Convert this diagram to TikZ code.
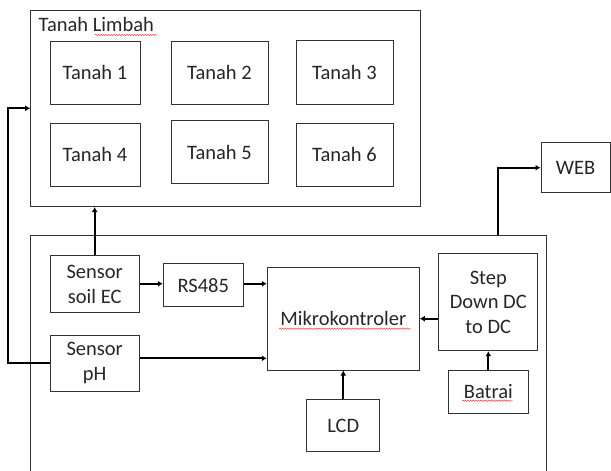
\documentclass[tikz,border=0pt]{standalone}
\usepackage{fontspec}
\setmainfont{Carlito}
\usetikzlibrary{arrows.meta,decorations.pathmorphing}
\tikzset{
  boxnode/.style={draw=black!80,line width=1pt,inner sep=0pt,align=center,
    text=black!85,font=\fontsize{20.5}{24.5}\selectfont},
  arr/.style={line width=1.9pt,-{Latex[length=5pt,width=6pt]}},
  squig/.style={red!75,line width=0.5pt,decorate,
    decoration={snake,amplitude=0.7pt,segment length=2.6pt}}
}
\begin{document}
\begin{tikzpicture}[x=1pt,y=-1pt]
\useasboundingbox (0,0) rectangle (611,471);
\clip (0,0) rectangle (611,471);
% outer boxes
\node[boxnode,minimum width=390pt,minimum height=195.8pt] (top) at (225.7,108.6) {};
\node[anchor=west,text=black!85,font=\fontsize{20.5}{24.5}\selectfont,inner sep=0pt] (title) at (38.5,24.5) {Tanah Limbah};
\node[boxnode,minimum width=515.3pt,minimum height=260pt] (bot) at (288.35,365) {};
% soil samples
\node[boxnode,minimum width=90pt,minimum height=63pt] (t1) at (95,72.5) {Tanah 1};
\node[boxnode,minimum width=97pt,minimum height=63pt] (t2) at (219.5,72.5) {Tanah 2};
\node[boxnode,minimum width=97pt,minimum height=64pt] (t3) at (344.5,72) {Tanah 3};
\node[boxnode,minimum width=90pt,minimum height=63pt] (t4) at (95,154.5) {Tanah 4};
\node[boxnode,minimum width=97pt,minimum height=62.6pt] (t5) at (219.5,152) {Tanah 5};
\node[boxnode,minimum width=97pt,minimum height=63pt] (t6) at (344.5,154.5) {Tanah 6};
% system blocks
\node[boxnode,minimum width=89.3pt,minimum height=56.7pt] (ec) at (94.7,284.3) {Sensor\\soil EC};
\node[boxnode,minimum width=89.3pt,minimum height=56.3pt] (ph) at (94.7,363.2) {Sensor\\pH};
\node[boxnode,minimum width=80pt,minimum height=42.7pt] (rs) at (203.3,285.3) {RS485};
\node[boxnode,minimum width=152pt,minimum height=102.7pt] (mk) at (343.3,318.7) {Mikrokontroler};
\node[boxnode,minimum width=73.3pt,minimum height=51.6pt] (lcd) at (343.3,425.5) {LCD};
\node[boxnode,minimum width=99.3pt,minimum height=96.7pt] (sd) at (488.3,302.3) {Step\\Down DC\\to DC};
\node[boxnode,minimum width=80pt,minimum height=43pt] (bat) at (488.3,391.8) {Batrai};
\node[boxnode,minimum width=69pt,minimum height=50pt] (web) at (575.5,167.7) {WEB};
% connectors
\coordinate (lc) at (8.3,108.3);
\coordinate (bt) at (497.7,235);
\draw[arr] (ec.north) -- (ec.north |- top.south);
\draw[arr] (ph.west |- 0,362.7) -| (lc) -- (lc -| top.west);
\draw[arr] (ec.east |- 0,283.7) -- (rs.west |- 0,283.7);
\draw[arr] (rs.east |- 0,283.7) -- (mk.west |- 0,283.7);
\draw[arr] (ph.east |- 0,358.3) -- (mk.west |- 0,358.3);
\draw[arr] (lcd.north) -- (mk.south);
\draw[arr] (sd.west |- mk.east) -- (mk.east);
\draw[arr] (bat.north) -- (sd.south);
\draw[arr] (bt) |- (web.west);
% spell-check underlines
\draw[squig] (95,35) -- (157,35);
\draw[squig] (279.3,328.7) -- (410.7,328.7);
\draw[squig] (462,400.7) -- (512.7,400.7);
\end{tikzpicture}
\end{document}
